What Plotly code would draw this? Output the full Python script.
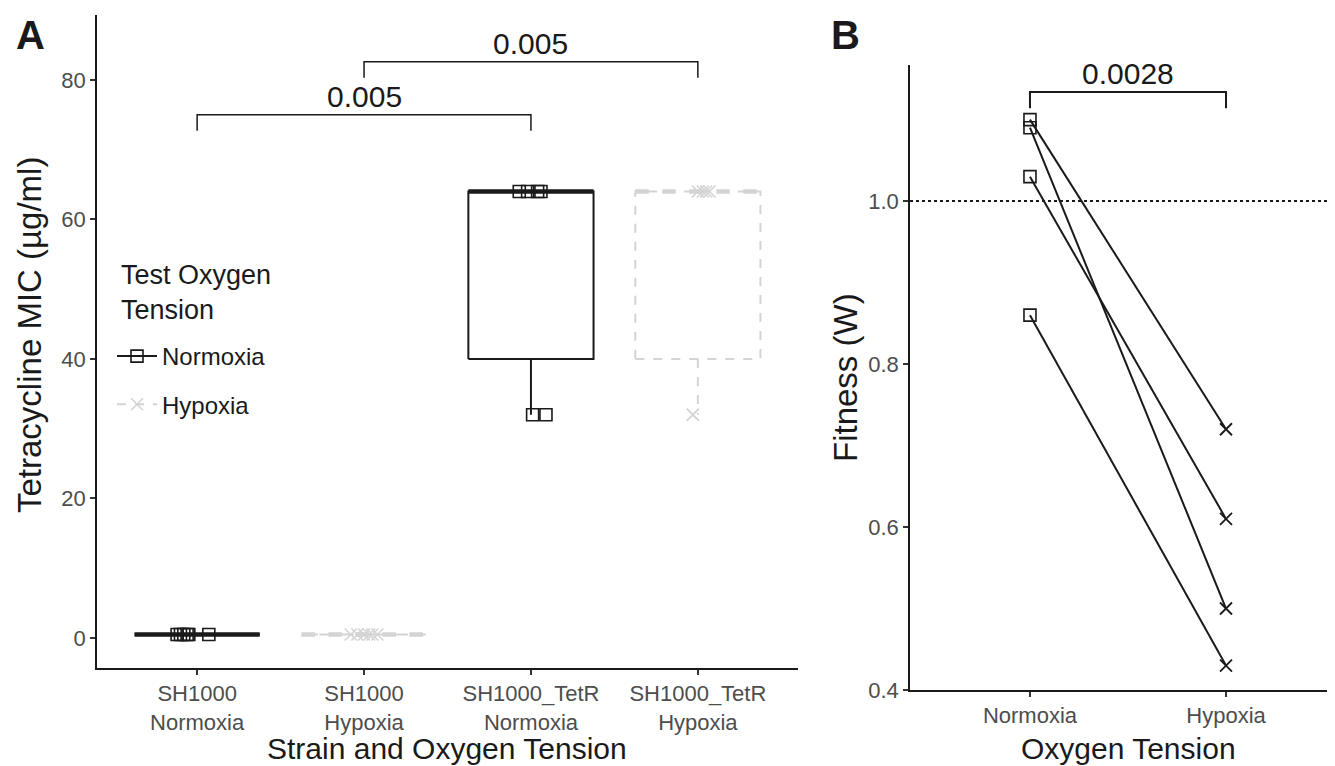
import numpy as np
import plotly.graph_objects as go

# ---------------- Panel A data ----------------
group_labels = ["SH1000<br>Normoxia", "SH1000<br>Hypoxia",
                "SH1000_TetR<br>Normoxia", "SH1000_TetR<br>Hypoxia"]
group_tension = ["Normoxia", "Hypoxia", "Normoxia", "Hypoxia"]
mic_sh1000_normoxia = [0.5, 0.5, 0.5, 0.5, 0.5, 0.5]
mic_sh1000_hypoxia = [0.5, 0.5, 0.5, 0.5, 0.5, 0.5]
mic_tetr_normoxia = [32, 32, 64, 64, 64, 64]
mic_tetr_hypoxia = [32, 32, 64, 64, 64, 64]
mic_values = [mic_sh1000_normoxia, mic_sh1000_hypoxia, mic_tetr_normoxia, mic_tetr_hypoxia]
comparisons_A = [(0, 2), (1, 3)]
pvalues_A = ["0.005", "0.005"]

# ---------------- Panel B data ----------------
fitness_categories = ["Normoxia", "Hypoxia"]
fitness_normoxia = [1.10, 1.09, 1.03, 0.86]
fitness_hypoxia = [0.72, 0.50, 0.61, 0.43]
pvalue_B = "0.0028"

# ---------------- styles ----------------
jitter = [
    [-0.12, -0.10, -0.08, -0.06, -0.05, 0.07],
    [-0.08, -0.04, 0.0, 0.03, 0.05, 0.08],
    [0.01, 0.09, -0.07, -0.02, 0.04, 0.06],
    [-0.03, -0.03, 0.0, 0.03, 0.05, 0.07],
]
style = {
    "Normoxia": dict(color="#1a1a1a", dash="solid", symbol="square-open"),
    "Hypoxia": dict(color="#d4d4d4", dash="dash", symbol="x-thin-open"),
}
FONT = "Liberation Sans, Arial, sans-serif"
BOX_W = 0.75
MSIZE = 12

# page body has an 8px margin: size the figure so it fits the window
OFF = 8
W, H = 1335 - OFF, 766 - OFF


def px(x):
    return (x - OFF) / W


def py(y):
    return 1 - (y - OFF) / H


fig = go.Figure()

for i, vals in enumerate(mic_values):
    pos = i + 1
    t = group_tension[i]
    st = style[t]
    v = np.array(vals, dtype=float)
    q1, med, q3 = np.percentile(v, [25, 50, 75])
    iqr = q3 - q1
    lo = v[v >= q1 - 1.5 * iqr].min()
    hi = v[v <= q3 + 1.5 * iqr].max()
    xl, xr = pos - BOX_W / 2, pos + BOX_W / 2
    xs = [xl, xr, xr, xl, xl, None, pos, pos, None, pos, pos]
    ys = [q1, q1, q3, q3, q1, None, q1, lo, None, q3, hi]
    fig.add_trace(go.Scatter(x=xs, y=ys, mode="lines",
                             line=dict(color=st["color"], width=2, dash=st["dash"]),
                             hoverinfo="skip", showlegend=False, xaxis="x", yaxis="y"))
    fig.add_trace(go.Scatter(x=[xl, xr], y=[med, med], mode="lines",
                             line=dict(color=st["color"], width=4.5, dash=st["dash"]),
                             hoverinfo="skip", showlegend=False, xaxis="x", yaxis="y"))
    fig.add_trace(go.Scatter(x=[pos + j for j in jitter[i]], y=vals, mode="markers",
                             marker=dict(symbol=st["symbol"], size=MSIZE, color=st["color"],
                                         line=dict(width=1.6, color=st["color"])),
                             showlegend=False, xaxis="x", yaxis="y"))

# legend entries
for t in ["Normoxia", "Hypoxia"]:
    st = style[t]
    fig.add_trace(go.Scatter(x=[None], y=[None], mode="lines+markers", name=t,
                             legendgroup=t,
                             line=dict(color=st["color"], width=2, dash=st["dash"]),
                             marker=dict(symbol=st["symbol"], size=MSIZE, color=st["color"],
                                         line=dict(width=1.6, color=st["color"])),
                             xaxis="x", yaxis="y"))

# brackets panel A
bracket_levels_A = [75.0, 82.6]
for (a, b), p, yb in zip(comparisons_A, pvalues_A, bracket_levels_A):
    fig.add_trace(go.Scatter(x=[a + 1, a + 1, b + 1, b + 1], y=[yb - 2.3, yb, yb, yb - 2.3],
                             mode="lines", line=dict(color="#1a1a1a", width=1.5),
                             hoverinfo="skip", showlegend=False, xaxis="x", yaxis="y"))
    fig.add_annotation(x=(a + b) / 2 + 1, y=yb, xref="x", yref="y", text=p,
                       showarrow=False, yanchor="bottom", yshift=0,
                       font=dict(size=30, color="#1a1a1a", family=FONT))

# ---------------- Panel B ----------------
for n, h in zip(fitness_normoxia, fitness_hypoxia):
    fig.add_trace(go.Scatter(x=[1, 2], y=[n, h], mode="lines",
                             line=dict(color="#1a1a1a", width=2),
                             hoverinfo="skip", showlegend=False, xaxis="x2", yaxis="y2"))
fig.add_trace(go.Scatter(x=[1] * len(fitness_normoxia), y=fitness_normoxia, mode="markers",
                         marker=dict(symbol="square-open", size=MSIZE, color="#1a1a1a",
                                     line=dict(width=1.6, color="#1a1a1a")),
                         showlegend=False, xaxis="x2", yaxis="y2"))
fig.add_trace(go.Scatter(x=[2] * len(fitness_hypoxia), y=fitness_hypoxia, mode="markers",
                         marker=dict(symbol="x-thin-open", size=MSIZE, color="#1a1a1a",
                                     line=dict(width=1.8, color="#1a1a1a")),
                         showlegend=False, xaxis="x2", yaxis="y2"))
yb = 1.134
fig.add_trace(go.Scatter(x=[1, 1, 2, 2], y=[yb - 0.02, yb, yb, yb - 0.02], mode="lines",
                         line=dict(color="#1a1a1a", width=2),
                         hoverinfo="skip", showlegend=False, xaxis="x2", yaxis="y2"))
fig.add_annotation(x=1.5, y=yb, xref="x2", yref="y2", text=pvalue_B, showarrow=False,
                   yanchor="bottom", yshift=0, font=dict(size=30, color="#1a1a1a", family=FONT))
fig.add_shape(type="line", xref="x2 domain", yref="y2", x0=0, x1=1, y0=1.0, y1=1.0,
              line=dict(color="#1a1a1a", width=2, dash="dot"))

axis_common = dict(showline=True, linecolor="#1a1a1a", linewidth=1.5, ticks="outside",
                   ticklen=5, tickwidth=1.5, tickcolor="#333333", showgrid=False,
                   zeroline=False, automargin=False,
                   tickfont=dict(size=22, color="#4d4d4d", family=FONT))

fig.update_layout(
    width=W, height=H, plot_bgcolor="white", paper_bgcolor="white",
    margin=dict(l=0, r=0, t=0, b=0),
    font=dict(family=FONT),
    xaxis=dict(domain=[px(97), px(798)], range=[0.4, 4.6],
               tickvals=[1, 2, 3, 4], ticktext=group_labels, anchor="y", **axis_common),
    yaxis=dict(domain=[py(668), py(15)], range=[-4.3, 89.3],
               tickvals=[0, 20, 40, 60, 80], anchor="x", **axis_common),
    xaxis2=dict(domain=[px(910), 1.0], range=[0.388, 2.556],
                tickvals=[1, 2], ticktext=fitness_categories, anchor="y2", **axis_common),
    yaxis2=dict(domain=[py(690), py(65)], range=[0.4, 1.167],
                tickvals=[0.4, 0.6, 0.8, 1.0], tickformat=".1f", anchor="x2", **axis_common),
    legend=dict(x=px(112), y=py(334), xanchor="left", yanchor="top",
                font=dict(size=24, color="#1a1a1a"), bgcolor="rgba(0,0,0,0)",
                tracegroupgap=14, itemwidth=40),
)

# legend title
fig.add_annotation(x=px(119), y=py(258), xref="paper", yref="paper",
                   text="Test Oxygen<br>Tension", showarrow=False, align="left",
                   xanchor="left", yanchor="top",
                   font=dict(size=27, color="#1a1a1a", family=FONT))


def title_ann(text, x, y, angle=0, size=30):
    fig.add_annotation(x=px(x), y=py(y), xref="paper", yref="paper", text=text,
                       showarrow=False, textangle=angle,
                       font=dict(size=size, color="#1a1a1a", family=FONT),
                       xanchor="center", yanchor="middle")


title_ann("Tetracycline MIC (µg/ml)", 30, 335, -90, 33)
title_ann("Strain and Oxygen Tension", 447, 748)
title_ann("Fitness (W)", 845, 378, -90, 33)
title_ann("Oxygen Tension", 1128, 748)

for lab, x in [("A", 30), ("B", 845)]:
    fig.add_annotation(x=px(x), y=py(35), xref="paper", yref="paper",
                       text="<b>" + lab + "</b>", showarrow=False,
                       font=dict(size=40, color="#1a1a1a", family=FONT),
                       xanchor="center", yanchor="middle")

fig.write_html("out.html")
